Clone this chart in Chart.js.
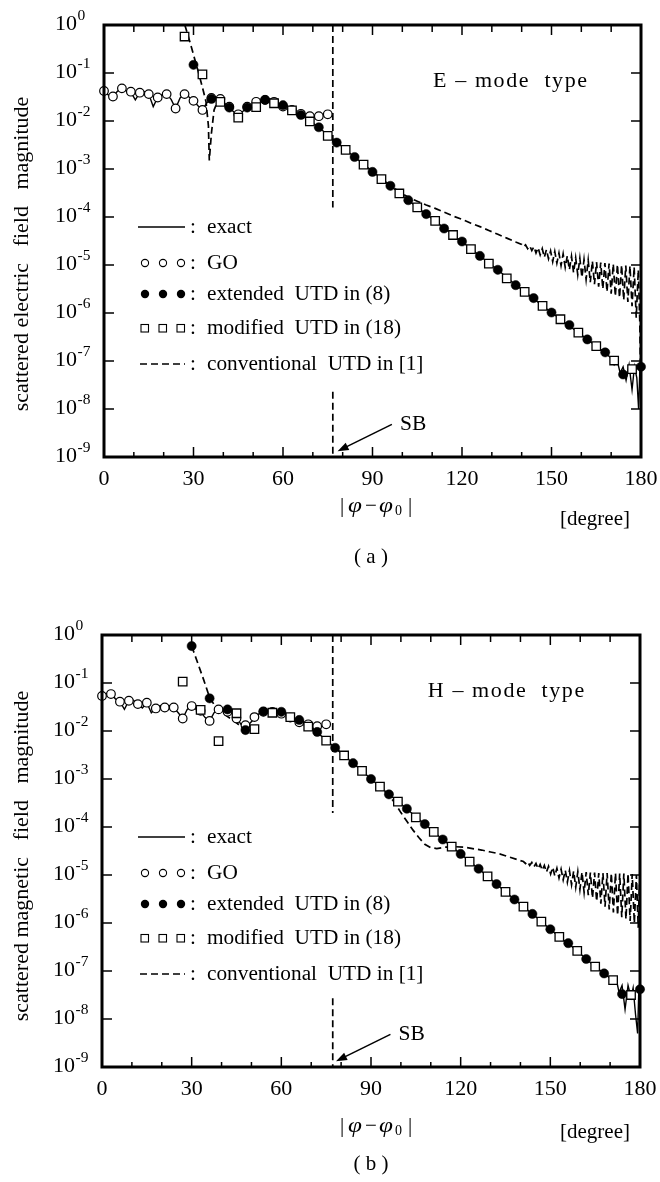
<!DOCTYPE html>
<html>
<head>
<meta charset="utf-8">
<script src="https://cdn.jsdelivr.net/npm/chart.js@4.4.1/dist/chart.umd.min.js"></script>
<style>
  body { margin: 0; background: #fff; width: 660px; height: 1182px; position: relative; overflow: hidden; }
  canvas { position: absolute; left: 0; }
  #chartE { top: 0; }
  #chartH { top: 590px; }
</style>
</head>
<body>
<canvas id="chartE" width="660" height="590"></canvas>
<canvas id="chartH" width="660" height="592"></canvas>
<script>
// axis ticks
const xTicks = [0, 30, 60, 90, 120, 150, 180];
const xMinorTicks = [10, 20, 40, 50, 70, 80, 100, 110, 130, 140, 160, 170];
const yExponents = [0, -1, -2, -3, -4, -5, -6, -7, -8, -9];

// all values below are [degree, log10(magnitude)]

// (a) E-mode
const eExact = [[0,-1.375],[1.5,-1.46],[3,-1.49],[4.5,-1.38],[6,-1.32],[7.5,-1.37],[9,-1.40],[10.5,-1.56],[12,-1.41],[13.5,-1.39],
  [15,-1.44],[16.5,-1.70],[18,-1.51],[19.5,-1.45],[21,-1.44],[22.5,-1.55],[24,-1.74],[25.5,-1.52],[27,-1.44],[28.5,-1.50],
  [30,-1.58],[31.5,-1.68],[33,-1.77],[34.5,-1.62],[36,-1.54],[37.5,-1.55],[39,-1.58],[40.5,-1.63],[42,-1.72],[43.5,-1.81],
  [45,-1.91],[46.5,-1.80],[48,-1.72],[49.5,-1.67],[51,-1.63],[52.5,-1.58],[54,-1.56],[55.5,-1.57],[57,-1.61],[60,-1.67],
  [63,-1.77],[66,-1.88],[69,-2.0],[72,-2.13],[75,-2.29],[78,-2.44],[81,-2.6],[84,-2.75],[87,-2.9],[90,-3.05],
  [93,-3.2],[96,-3.35],[99,-3.5],[102,-3.65],[105,-3.8],[108,-3.94],[111,-4.08],[114,-4.23],[117,-4.37],[120,-4.52],
  [123,-4.66],[126,-4.81],[129,-4.96],[132,-5.1],[135,-5.26],[138,-5.41],[141,-5.56],[144,-5.7],[147,-5.85],[150,-5.99],
  [153,-6.13],[156,-6.27],[159,-6.41],[162,-6.55],[165,-6.69],[168,-6.83],[170,-6.94],[171,-7.08],[172,-6.98],[173,-7.25],
  [174,-7.12],[175,-7.4],[176,-7.08],[177,-7.6],[177.8,-7.12],[178.6,-7.35],[179.2,-8.0],[179.6,-7.2],[180,-7.12]];
const eGO = [[0,-1.375],[3,-1.49],[6,-1.32],[9,-1.39],[12,-1.41],[15,-1.44],[18,-1.51],[21,-1.44],[24,-1.74],[27,-1.44],
  [30,-1.58],[33,-1.77],[36,-1.52],[39,-1.54],[42,-1.70],[45,-1.86],[48,-1.70],[51,-1.60],[54,-1.56],[57,-1.60],
  [60,-1.70],[63,-1.77],[66,-1.85],[69,-1.90],[72,-1.90],[75,-1.86]];
const eExtended = [[30,-0.83],[36,-1.54],[42,-1.72],[48,-1.72],[54,-1.56],[60,-1.67],[66,-1.875],[72,-2.13],[78,-2.45],[84,-2.75],
  [90,-3.06],[96,-3.35],[102,-3.65],[108,-3.94],[114,-4.24],[120,-4.51],[126,-4.81],[132,-5.1],[138,-5.42],[144,-5.69],
  [150,-5.99],[156,-6.25],[162,-6.55],[168,-6.82],[174,-7.28],[180,-7.12]];
const eModified = [[27,-0.24],[33,-1.03],[39,-1.6],[45,-1.93],[51,-1.71],[57,-1.63],[63,-1.78],[69,-2.01],[75,-2.31],[81,-2.6],
  [87,-2.91],[93,-3.21],[99,-3.51],[105,-3.8],[111,-4.08],[117,-4.375],[123,-4.67],[129,-4.97],[135,-5.28],[141,-5.56],
  [147,-5.85],[153,-6.13],[159,-6.41],[165,-6.69],[171,-6.99],[177,-7.17]];
const eConventional = [[27.1,0],[28.6,-0.31],[30,-0.62],[31.5,-0.95],[33,-1.3],[34.2,-1.6],[35,-2.1],[35.3,-2.82],[36,-2.26],[36.9,-1.77],[38,-1.6],
  [38,null],[76.7,0],[76.7,-3.8],[76.7,null],[76.7,-7.64],[76.7,-9],[76.7,null],
  [77.5,-2.4],[81,-2.6],[84,-2.75],[87,-2.9],[90,-3.05],[93,-3.2],[96,-3.34],[99,-3.48],[102,-3.59],[105,-3.67],
  [108,-3.75],[111,-3.82],[114,-3.9],[117,-3.98],[120,-4.05],[123,-4.13],[126,-4.2],[129,-4.28],[132,-4.36],[135,-4.44],
  [138,-4.52],[140,-4.57],[140.6,-4.62],[141.3,-4.58],[142,-4.66],[142.7,-4.6],[143.4,-4.7],[144.1,-4.62],[144.8,-4.75],
  [145.5,-4.64],[146.2,-4.79],[146.9,-4.66],[147.6,-4.84],[148.3,-4.68],[149,-4.87],[149.7,-4.71],[150.4,-4.93],[151.1,-4.72],
  [151.8,-4.96],[152.5,-4.75],[153.2,-5.01],[153.9,-4.77],[154.6,-5.05],[155.3,-4.81],[156,-5.1],[156.7,-4.82],[157.4,-5.16],
  [158.1,-4.85],[158.8,-5.2],[159.5,-4.86],[160.2,-5.26],[160.9,-4.89],[161.6,-5.3],[162.3,-4.9],[163,-5.36],[163.7,-4.92],
  [164.4,-5.4],[165.1,-4.94],[165.8,-5.45],[166.5,-4.95],[167.2,-5.5],[167.9,-4.96],[168.6,-5.56],[169.3,-4.97],[170,-5.6],
  [170.7,-4.98],[171.4,-5.65],[172.1,-4.99],[172.8,-5.68],[173.5,-5.0],[174.2,-5.73],[174.9,-5.01],[175.6,-5.77],[176.3,-5.02],
  [177,-5.86],[177.7,-5.04],[178.4,-6.1],[179.1,-5.1],[179.6,-6.2],[180,-8.0]];

// (b) H-mode
const hExact = [[0,-1.27],[1.5,-1.22],[3,-1.23],[4.5,-1.33],[6,-1.39],[7.5,-1.55],[9,-1.37],[10.5,-1.36],[12,-1.44],[13.5,-1.52],
  [15,-1.41],[16.5,-1.62],[18,-1.53],[19.5,-1.47],[21,-1.51],[22.5,-1.47],[24,-1.51],[25.5,-1.62],[27,-1.74],[28.5,-1.55],
  [30,-1.48],[31.5,-1.55],[33,-1.60],[34.5,-1.72],[36,-1.79],[37.5,-1.62],[39,-1.55],[40.5,-1.55],[42,-1.58],[43.5,-1.63],
  [45,-1.72],[46.5,-1.86],[48,-1.96],[49.5,-1.84],[51,-1.74],[52.5,-1.64],[54,-1.59],[55.5,-1.59],[57,-1.6],[60,-1.62],
  [63,-1.7],[66,-1.78],[69,-1.9],[72,-2.03],[75,-2.19],[78,-2.35],[81,-2.51],[84,-2.67],[87,-2.83],[90,-3.0],
  [93,-3.16],[96,-3.32],[99,-3.47],[102,-3.62],[105,-3.79],[108,-3.94],[111,-4.1],[114,-4.26],[117,-4.41],[120,-4.56],
  [123,-4.72],[126,-4.87],[129,-5.03],[132,-5.19],[135,-5.35],[138,-5.51],[141,-5.66],[144,-5.81],[147,-5.97],[150,-6.13],
  [153,-6.29],[156,-6.43],[159,-6.58],[162,-6.75],[165,-6.91],[168,-7.05],[170,-7.15],[171,-7.25],[172,-7.15],[173,-7.45],
  [174,-7.3],[175,-7.8],[176,-7.3],[177,-7.55],[177.7,-7.35],[178.5,-7.9],[179.2,-8.3],[179.6,-7.4],[180,-7.38]];
const hGO = [[0,-1.27],[3,-1.23],[6,-1.39],[9,-1.37],[12,-1.44],[15,-1.41],[18,-1.53],[21,-1.51],[24,-1.51],[27,-1.74],
  [30,-1.48],[33,-1.58],[36,-1.79],[39,-1.55],[42,-1.6],[45,-1.74],[48,-1.88],[51,-1.71],[54,-1.6],[57,-1.6],
  [60,-1.64],[63,-1.72],[66,-1.82],[69,-1.86],[72,-1.9],[75,-1.86]];
const hExtended = [[30,-0.23],[36,-1.32],[42,-1.55],[48,-1.98],[54,-1.59],[60,-1.6],[66,-1.77],[72,-2.02],[78,-2.35],[84,-2.67],
  [90,-3.0],[96,-3.32],[102,-3.62],[108,-3.94],[114,-4.26],[120,-4.56],[126,-4.87],[132,-5.19],[138,-5.51],[144,-5.81],
  [150,-6.13],[156,-6.42],[162,-6.75],[168,-7.05],[174,-7.48],[180,-7.38]];
const hModified = [[27,-0.97],[33,-1.56],[39,-2.21],[45,-1.63],[51,-1.96],[57,-1.62],[63,-1.71],[69,-1.91],[75,-2.2],[81,-2.51],
  [87,-2.83],[93,-3.16],[99,-3.47],[105,-3.8],[111,-4.1],[117,-4.41],[123,-4.72],[129,-5.03],[135,-5.35],[141,-5.66],
  [147,-5.97],[153,-6.29],[159,-6.58],[165,-6.91],[171,-7.19],[177,-7.5]];
const hConventional = [[30,-0.23],[32,-0.58],[34,-0.93],[36,-1.3],[37.2,-1.42],[38,-1.5],[40,-1.6],[42,-1.7],[44,-1.78],[46,-1.88],[48,-1.96],
  [48,null],[77.2,0],[77.2,-3.71],[77.2,null],[77.2,-7.57],[77.2,-9],[77.2,null],
  [78,-2.35],[84,-2.67],[90,-3.0],[96,-3.34],[98,-3.5],[100,-3.7],[102,-3.88],[104,-4.06],[106,-4.22],[108,-4.36],
  [110,-4.43],[112,-4.45],[115,-4.42],[118,-4.41],[121,-4.42],[124,-4.45],[127,-4.48],[130,-4.52],[133,-4.56],[136,-4.62],
  [139,-4.68],[141,-4.72],[141.7,-4.76],[142.4,-4.72],[143.1,-4.8],[143.8,-4.74],[144.5,-4.83],[145.2,-4.76],[145.9,-4.87],
  [146.6,-4.78],[147.3,-4.9],[148,-4.8],[148.7,-4.94],[149.4,-4.82],[150.1,-4.98],[150.8,-4.84],[151.5,-5.02],[152.2,-4.86],
  [152.9,-5.06],[153.6,-4.88],[154.3,-5.1],[155,-4.9],[155.7,-5.15],[156.4,-4.91],[157.1,-5.2],[157.8,-4.92],[158.5,-5.25],
  [159.2,-4.93],[159.9,-5.3],[160.6,-4.94],[161.3,-5.36],[162,-4.94],[162.7,-5.42],[163.4,-4.95],[164.1,-5.48],[164.8,-4.95],
  [165.5,-5.55],[166.2,-4.96],[166.9,-5.6],[167.6,-4.96],[168.3,-5.66],[169,-4.96],[169.7,-5.72],[170.4,-4.96],[171.1,-5.78],
  [171.8,-4.96],[172.5,-5.84],[173.2,-4.97],[173.9,-5.88],[174.6,-4.97],[175.3,-5.92],[176,-4.97],[176.7,-5.96],[177.4,-4.98],
  [178.1,-6.0],[178.8,-5.0],[179.4,-6.1],[179.8,-5.2],[180,-6.62]];

const legendLabels = ['exact', 'GO', 'extended  UTD in (8)', 'modified  UTD in (18)', 'conventional  UTD in [1]'];

const FONT = '"Liberation Serif", "Times New Roman", serif';

function toPoints(pairs) {
  return pairs.map(p => ({ x: p[0], y: p[1] === null ? null : Math.pow(10, p[1]) }));
}

function yPix(scale, lg) {
  return scale.getPixelForValue(Math.pow(10, lg));
}

// slightly widened italic phi, like the symbol font of the original
function drawPhi(ctx, x, y) {
  ctx.save();
  ctx.font = 'italic 21px ' + FONT;
  ctx.translate(x, y);
  ctx.scale(1.2, 1);
  ctx.fillText('\u03c6', 0, 0);
  ctx.restore();
}

// frame, inward ticks, labels, legend and notes drawn like the journal figure
const paperPlugin = {
  id: 'paper',
  afterDraw(chart, args, o) {
    const ctx = chart.ctx, a = chart.chartArea;
    const xs = chart.scales.x, ys = chart.scales.y;
    ctx.save();
    ctx.strokeStyle = '#000';
    ctx.fillStyle = '#000';
    ctx.setLineDash([]);

    ctx.lineWidth = 1.5;
    ctx.beginPath();
    xTicks.forEach(v => {
      const p = xs.getPixelForValue(v);
      ctx.moveTo(p, a.bottom); ctx.lineTo(p, a.bottom - 10);
      ctx.moveTo(p, a.top); ctx.lineTo(p, a.top + 10);
    });
    xMinorTicks.forEach(v => {
      const p = xs.getPixelForValue(v);
      ctx.moveTo(p, a.bottom); ctx.lineTo(p, a.bottom - 5);
      ctx.moveTo(p, a.top); ctx.lineTo(p, a.top + 7);
    });
    yExponents.forEach(e => {
      const p = yPix(ys, e);
      ctx.moveTo(a.left, p); ctx.lineTo(a.left + 10, p);
      ctx.moveTo(a.right, p); ctx.lineTo(a.right - 10, p);
    });
    ctx.stroke();
    ctx.lineWidth = 3;
    ctx.strokeRect(a.left, a.top, a.right - a.left, a.bottom - a.top);

    // tick labels
    ctx.textBaseline = 'middle';
    ctx.textAlign = 'center';
    ctx.font = '22px ' + FONT;
    xTicks.forEach(v => ctx.fillText(String(v), xs.getPixelForValue(v), a.bottom + 22));
    ctx.textAlign = 'left';
    yExponents.forEach(e => {
      const p = yPix(ys, e);
      const x0 = a.left - 49;
      ctx.font = '22px ' + FONT;
      ctx.fillText('10', x0, p - 1);
      const w = ctx.measureText('10').width;
      ctx.font = '15.5px ' + FONT;
      ctx.fillText(e === 0 ? '0' : '-' + (-e), x0 + w + 0.5, p - 9);
    });

    // y title
    ctx.save();
    ctx.font = '22px ' + FONT;
    ctx.textAlign = 'center';
    ctx.translate(22, (a.top + a.bottom) / 2 + o.yTitleDy);
    ctx.rotate(-Math.PI / 2);
    ctx.fillText(o.yTitle, 0, 0);
    ctx.restore();

    // x title  | phi - phi0 |
    const px = 340, py = a.bottom + o.phiDy;
    ctx.font = '21px ' + FONT;
    ctx.fillText('|', px, py);
    drawPhi(ctx, px + 8, py);
    ctx.fillText('\u2212', px + 25, py);
    drawPhi(ctx, px + 39, py);
    ctx.font = '14px ' + FONT;
    ctx.fillText('0', px + 55, py + 5);
    ctx.font = '21px ' + FONT;
    ctx.fillText('|', px + 68, py);
    ctx.fillText('[degree]', 560, a.bottom + o.degDy);
    ctx.textAlign = 'center';
    ctx.fillText(o.panel, 371, a.bottom + o.panelDy);

    // mode note
    ctx.textAlign = 'left';
    ctx.save();
    ctx.font = '22px ' + FONT;
    ctx.letterSpacing = '1.6px';
    ctx.fillText(o.mode, xs.getPixelForValue(o.modeX), yPix(ys, -1.17));
    ctx.restore();

    // SB arrow
    const tx = xs.getPixelForValue(96.5), ty = yPix(ys, -8.32);
    const hx = xs.getPixelForValue(78.3), hy = yPix(ys, -8.88);
    const ang = Math.atan2(hy - ty, hx - tx);
    ctx.lineWidth = 1.5;
    ctx.beginPath();
    ctx.moveTo(tx, ty);
    ctx.lineTo(hx - 8 * Math.cos(ang), hy - 8 * Math.sin(ang));
    ctx.stroke();
    ctx.beginPath();
    ctx.moveTo(hx, hy);
    ctx.lineTo(hx - 11 * Math.cos(ang) + 4 * Math.sin(ang), hy - 11 * Math.sin(ang) - 4 * Math.cos(ang));
    ctx.lineTo(hx - 11 * Math.cos(ang) - 4 * Math.sin(ang), hy - 11 * Math.sin(ang) + 4 * Math.cos(ang));
    ctx.closePath();
    ctx.fill();
    ctx.font = '21.5px ' + FONT;
    ctx.fillText('SB', xs.getPixelForValue(99.2), yPix(ys, -8.33));

    // legend
    const lx = 138;
    const rows = [202, 238, 269, 303, 339].map(d => a.top + d);
    ctx.lineWidth = 1.5;
    ctx.beginPath();
    ctx.moveTo(lx, rows[0]); ctx.lineTo(lx + 47, rows[0]);
    ctx.stroke();
    [lx + 7, lx + 25, lx + 43].forEach(cx => {
      ctx.lineWidth = 1.1;
      ctx.beginPath(); ctx.arc(cx, rows[1], 3.6, 0, Math.PI * 2);
      ctx.fillStyle = '#fff'; ctx.fill(); ctx.stroke();
      ctx.fillStyle = '#000';
      ctx.beginPath(); ctx.arc(cx, rows[2], 4.2, 0, Math.PI * 2); ctx.fill();
      ctx.strokeRect(cx - 4, rows[3] - 3.5, 7.5, 7.5);
    });
    ctx.lineWidth = 1.5;
    ctx.setLineDash([7, 4]);
    ctx.beginPath();
    ctx.moveTo(lx + 2, rows[4]); ctx.lineTo(lx + 47, rows[4]);
    ctx.stroke();
    ctx.setLineDash([]);
    ctx.font = '21.3px ' + FONT;
    legendLabels.forEach((t, i) => {
      ctx.fillText(':', lx + 52, rows[i]);
      ctx.fillText(t, lx + 69, rows[i]);
    });
    ctx.restore();
  }
};

function makeChart(id, sets, opt, pad) {
  return new Chart(document.getElementById(id), {
    type: 'scatter',
    data: {
      datasets: [
        { label: 'extended UTD in (8)', data: toPoints(sets.ext), pointStyle: 'circle', pointRadius: 4.6,
          pointBackgroundColor: '#000', pointBorderColor: '#000', pointBorderWidth: 0.5, clip: false },
        { label: 'modified UTD in (18)', data: toPoints(sets.mod), pointStyle: 'rect', pointRadius: 6,
          pointBackgroundColor: '#fff', pointBorderColor: '#000', pointBorderWidth: 1.3, clip: false },
        { label: 'GO', data: toPoints(sets.go), pointStyle: 'circle', pointRadius: 4.3,
          pointBackgroundColor: '#fff', pointBorderColor: '#000', pointBorderWidth: 1.2, clip: false },
        { label: 'exact', data: toPoints(sets.exact), showLine: true, borderColor: '#000', borderWidth: 1.4,
          pointRadius: 0, tension: 0, spanGaps: false },
        { label: 'conventional UTD in [1]', data: toPoints(sets.conv), showLine: true, borderColor: '#000',
          borderWidth: 1.7, borderDash: [7, 4], pointRadius: 0, tension: 0, spanGaps: false }
      ]
    },
    options: {
      responsive: false,
      animation: false,
      events: [],
      layout: { padding: pad },
      scales: {
        x: { type: 'linear', min: 0, max: 180, display: false },
        y: { type: 'logarithmic', min: 1e-9, max: 1, display: false }
      },
      plugins: { legend: { display: false }, tooltip: { enabled: false }, paper: opt }
    },
    plugins: [paperPlugin]
  });
}

makeChart('chartE',
  { exact: eExact, go: eGO, ext: eExtended, mod: eModified, conv: eConventional },
  { yTitle: 'scattered electric   field   magnitude', yTitleDy: 13, mode: 'E \u2013 mode  type', modeX: 110.3,
    panel: '( a )', phiDy: 49, degDy: 62, panelDy: 100 },
  { left: 104, top: 25, right: 19, bottom: 133 });

makeChart('chartH',
  { exact: hExact, go: hGO, ext: hExtended, mod: hModified, conv: hConventional },
  { yTitle: 'scattered magnetic   field   magnitude', yTitleDy: 5, mode: 'H \u2013 mode  type', modeX: 109,
    panel: '( b )', phiDy: 59, degDy: 65, panelDy: 97 },
  { left: 102, top: 45, right: 20, bottom: 115 });
</script>
</body>
</html>
